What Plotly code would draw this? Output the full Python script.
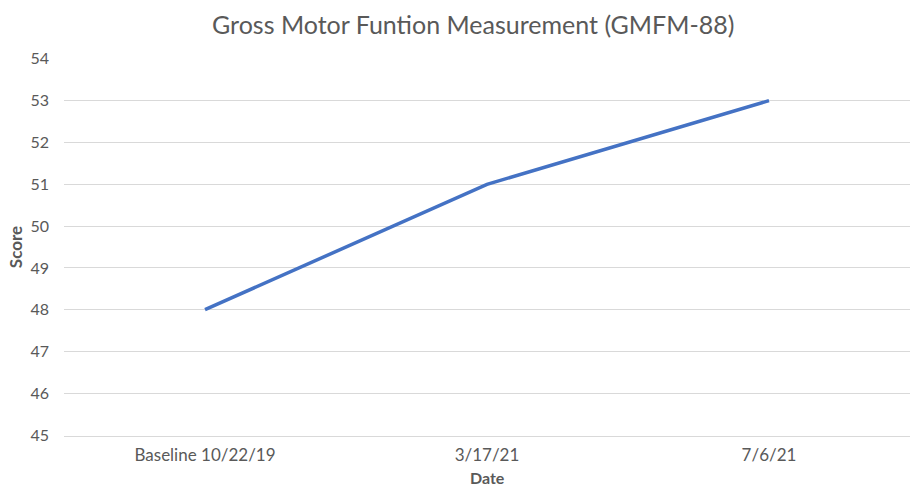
import plotly.graph_objects as go

dates = ["Baseline 10/22/19", "3/17/21", "7/6/21"]
scores = [48, 51, 53]
y_ticks = [45, 46, 47, 48, 49, 50, 51, 52, 53, 54]

FONT = "Lato, Open Sans, sans-serif"
fig = go.Figure()
fig.add_trace(go.Scatter(x=dates, y=scores, mode="lines",
                         line=dict(color="#4472C4", width=3.5), showlegend=False))
fig.update_layout(
    width=910, height=488,
    margin=dict(l=64, r=0, t=58, b=52, autoexpand=False),
    paper_bgcolor="white", plot_bgcolor="white",
    title=dict(text="Gross Motor Funtion Measurement (GMFM-88)", x=0.52, xanchor="center",
               y=0.948, yanchor="middle",
               font=dict(family=FONT, size=25, color="#595959")),
    font=dict(family=FONT, color="#595959"),
    annotations=[dict(text="<b>Date</b>", xref="paper", yref="paper", x=0.5, y=-0.11,
                      xanchor="center", yanchor="middle", showarrow=False, borderpad=0,
                      font=dict(family=FONT, size=16, color="#595959"))],
)
fig.update_xaxes(type="category", range=[-0.5, 2.5], showgrid=False,
                 showline=True, linecolor="#d9d9d9", linewidth=1,
                 ticks="", ticklabelstandoff=4, tickfont=dict(size=17, color="#595959"))
fig.update_yaxes(range=[44.98, 54.02], tickvals=y_ticks, showgrid=True,
                 gridcolor="#d9d9d9", gridwidth=1, zeroline=False, showline=False,
                 ticks="", ticklabelstandoff=14, tickfont=dict(size=16, color="#595959"),
                 title=dict(text="<b>Score</b>", font=dict(size=17, color="#595959"), standoff=3))
fig.write_html("out.html", config={"displayModeBar": False},
               post_script="document.body.style.margin='0';")
